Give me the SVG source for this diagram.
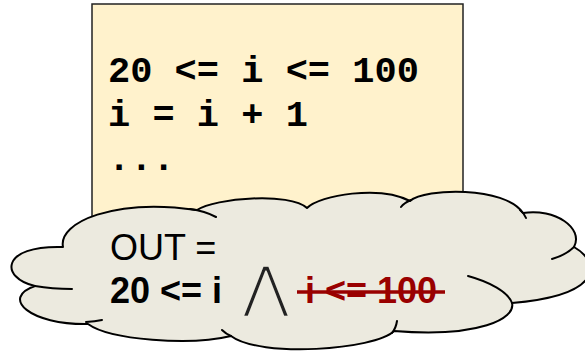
<svg xmlns="http://www.w3.org/2000/svg" width="585" height="354" viewBox="0 0 585 354">
<style>
.code{font-family:"Liberation Mono","Courier New",monospace;font-weight:bold;font-size:37px;fill:#000}
.sans{font-family:"Liberation Sans",Arial,sans-serif;font-size:36px}
.cloud{fill:#eceadf;stroke:#000;stroke-width:2;stroke-linejoin:round}
.tail{fill:none;stroke:#000;stroke-width:2;stroke-linecap:round}
</style>
<rect width="585" height="354" fill="#fff"/>
<g id="code-box">
<rect x="92" y="4" width="371" height="300" fill="#fff2cc" stroke="#222" stroke-width="1.5"/>
<text class="code" x="108" y="82" xml:space="preserve">20 &lt;= i &lt;= 100</text>
<text class="code" x="108" y="126" xml:space="preserve">i = i + 1</text>
<text class="code" x="108" y="170">...</text>
</g>
<g id="cloud">
<path class="cloud" d="M63,247 C58,222 115,198 197,210 C215,198 290,192 307,208 C320,195 380,185 410,201 C425,188 505,186 523,213 C555,208 584,228 574,247 C600,262 605,295 512,303 C516,318 480,338 394,331 C375,350 260,358 231,336 C190,346 110,340 88,324 C30,325 0,298 35,286 C0,278 0,245 63,247 Z"/>
<path class="tail" d="M190,209 Q205,211 216,217 M401,207 Q404,203 411,200 M520,210 Q524,213 526,218 M574,247 Q566,255 552,259 M468,276 C490,282 508,292 512,303 M392,333 Q396,328 397,321 M231,336 Q226,334 222,330 M86,322 Q95,321.5 102,320 M35,286 Q52,289 72,289"/>
<text class="sans" x="110" y="260">OUT =</text>
<text class="sans" x="110" y="303" font-weight="bold">20 &lt;= i</text>
<text x="266" y="306" text-anchor="middle" font-family="DejaVu Sans, sans-serif" font-size="56" fill="#222" stroke="#eceadf" stroke-width="1.9" stroke-linejoin="round">⋀</text>
<text class="sans" x="305" y="303" font-weight="bold" fill="#990000">i &lt;= 100</text>
<line x1="297" y1="292" x2="445" y2="292" stroke="#990000" stroke-width="3.5"/>
</g>
<g id="connectors"/>
</svg>
